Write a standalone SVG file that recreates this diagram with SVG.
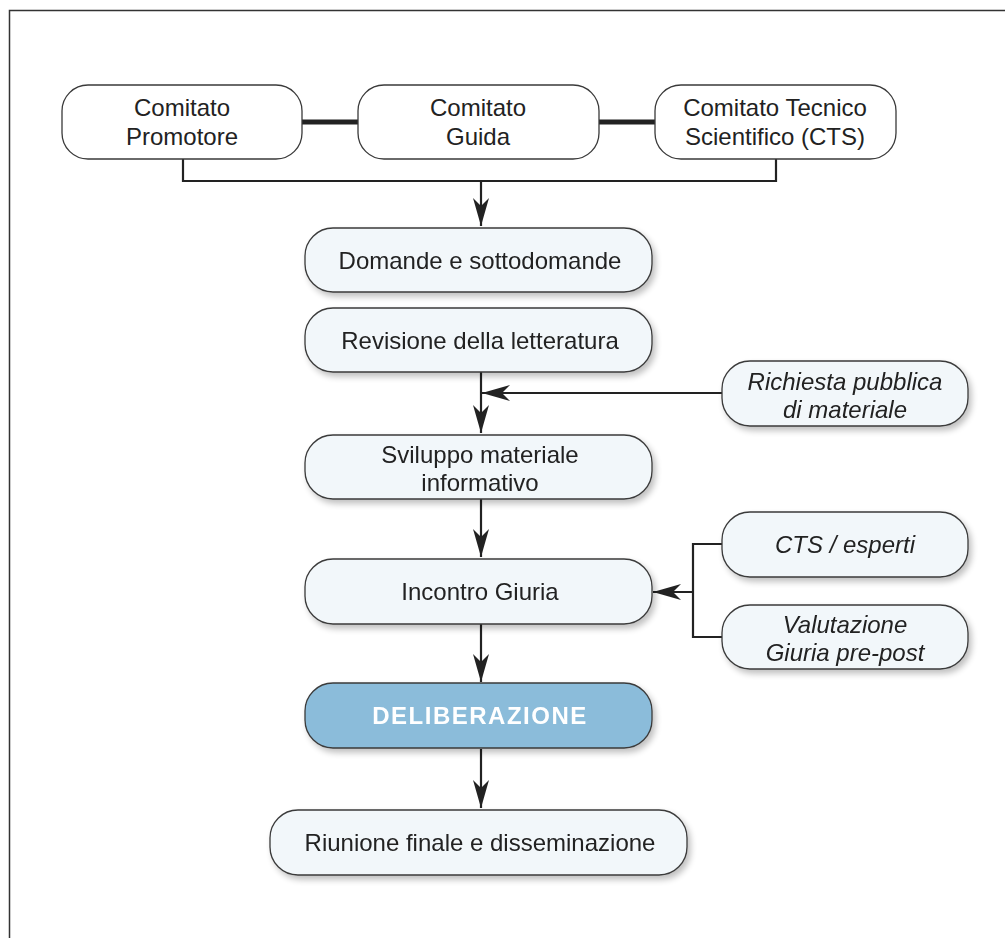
<svg xmlns="http://www.w3.org/2000/svg" width="1005" height="938" viewBox="0 0 1005 938">
<defs>
<style>
.box{fill:#f2f7fa;stroke:#3a3a3a;stroke-width:1.3}
.top{fill:#ffffff;stroke:#3a3a3a;stroke-width:1.3}
.hl{fill:#8bbcda;stroke:#3a3a3a;stroke-width:1.3}
.t{font-family:"Liberation Sans",Arial,sans-serif;font-size:24px;fill:#222;text-anchor:middle}
.i{font-style:italic}
.w{fill:#ffffff;font-weight:bold;letter-spacing:1.5px}
.ln{fill:none;stroke:#222;stroke-width:2.2}
.thick{fill:none;stroke:#222;stroke-width:5}
</style>
<marker id="ah" viewBox="0 0 28 16" refX="28" refY="8" markerWidth="28" markerHeight="16" markerUnits="userSpaceOnUse" orient="auto">
<path d="M0,0 L28,8 L0,16 L8,8 Z" fill="#222"/>
</marker>
<filter id="sh" x="-10%" y="-20%" width="125%" height="160%">
<feGaussianBlur in="SourceAlpha" stdDeviation="3"/>
<feOffset dx="3" dy="4"/>
<feComponentTransfer><feFuncA type="linear" slope="0.25"/></feComponentTransfer>
<feMerge><feMergeNode/><feMergeNode in="SourceGraphic"/></feMerge>
</filter>
</defs>
<rect x="0" y="0" width="1005" height="938" fill="#ffffff"/>
<path d="M9.5,938 L9.5,10.5 L1005,10.5" fill="none" stroke="#333" stroke-width="1.5"/>

<g id="connectors">
<line class="thick" x1="302" y1="122" x2="358" y2="122"/>
<line class="thick" x1="599" y1="122" x2="655" y2="122"/>
<path class="ln" d="M183,159 L183,181 L776,181 L776,159"/>
<line class="ln" x1="481" y1="181" x2="481" y2="226" marker-end="url(#ah)"/>
<line class="ln" x1="481" y1="372" x2="481" y2="433" marker-end="url(#ah)"/>
<line class="ln" x1="722" y1="393" x2="482" y2="393" marker-end="url(#ah)"/>
<line class="ln" x1="481" y1="499" x2="481" y2="557" marker-end="url(#ah)"/>
<path class="ln" d="M722,544 L693,544 L693,637 L722,637"/>
<line class="ln" x1="693" y1="592" x2="653" y2="592" marker-end="url(#ah)"/>
<line class="ln" x1="481" y1="624" x2="481" y2="682" marker-end="url(#ah)"/>
<line class="ln" x1="481" y1="749" x2="481" y2="808" marker-end="url(#ah)"/>
</g>

<g id="n-promotore">
<rect class="top" x="62" y="85" width="240" height="74" rx="26"/>
<text class="t" x="182" y="116">Comitato</text>
<text class="t" x="182" y="145">Promotore</text>
</g>
<g id="n-guida">
<rect class="top" x="358" y="85" width="241" height="74" rx="26"/>
<text class="t" x="478" y="116">Comitato</text>
<text class="t" x="478" y="145">Guida</text>
</g>
<g id="n-cts">
<rect class="top" x="655" y="85" width="241" height="74" rx="26"/>
<text class="t" x="775" y="116">Comitato Tecnico</text>
<text class="t" x="775" y="145">Scientifico (CTS)</text>
</g>

<g id="n-domande" filter="url(#sh)">
<rect class="box" x="305" y="228" width="347" height="64" rx="28"/>
<text class="t" x="480" y="269">Domande e sottodomande</text>
</g>
<g id="n-revisione" filter="url(#sh)">
<rect class="box" x="305" y="308" width="347" height="64" rx="28"/>
<text class="t" x="480" y="349">Revisione della letteratura</text>
</g>
<g id="n-richiesta" filter="url(#sh)">
<rect class="box" x="722" y="361" width="246" height="65" rx="28"/>
<text class="t i" x="845" y="390">Richiesta pubblica</text>
<text class="t i" x="845" y="418">di materiale</text>
</g>
<g id="n-sviluppo" filter="url(#sh)">
<rect class="box" x="305" y="435" width="347" height="64" rx="28"/>
<text class="t" x="480" y="463">Sviluppo materiale</text>
<text class="t" x="480" y="491">informativo</text>
</g>
<g id="n-esperti" filter="url(#sh)">
<rect class="box" x="722" y="512" width="246" height="65" rx="28"/>
<text class="t i" x="845" y="553">CTS / esperti</text>
</g>
<g id="n-incontro" filter="url(#sh)">
<rect class="box" x="305" y="559" width="347" height="65" rx="28"/>
<text class="t" x="480" y="600">Incontro Giuria</text>
</g>
<g id="n-valutazione" filter="url(#sh)">
<rect class="box" x="722" y="605" width="246" height="64" rx="28"/>
<text class="t i" x="845" y="633">Valutazione</text>
<text class="t i" x="845" y="661">Giuria pre-post</text>
</g>
<g id="n-deliberazione" filter="url(#sh)">
<rect class="hl" x="305" y="683" width="347" height="65" rx="28"/>
<text class="t w" x="480" y="724">DELIBERAZIONE</text>
</g>
<g id="n-riunione" filter="url(#sh)">
<rect class="box" x="270" y="810" width="417" height="65" rx="28"/>
<text class="t" x="480" y="851">Riunione finale e disseminazione</text>
</g>
</svg>
